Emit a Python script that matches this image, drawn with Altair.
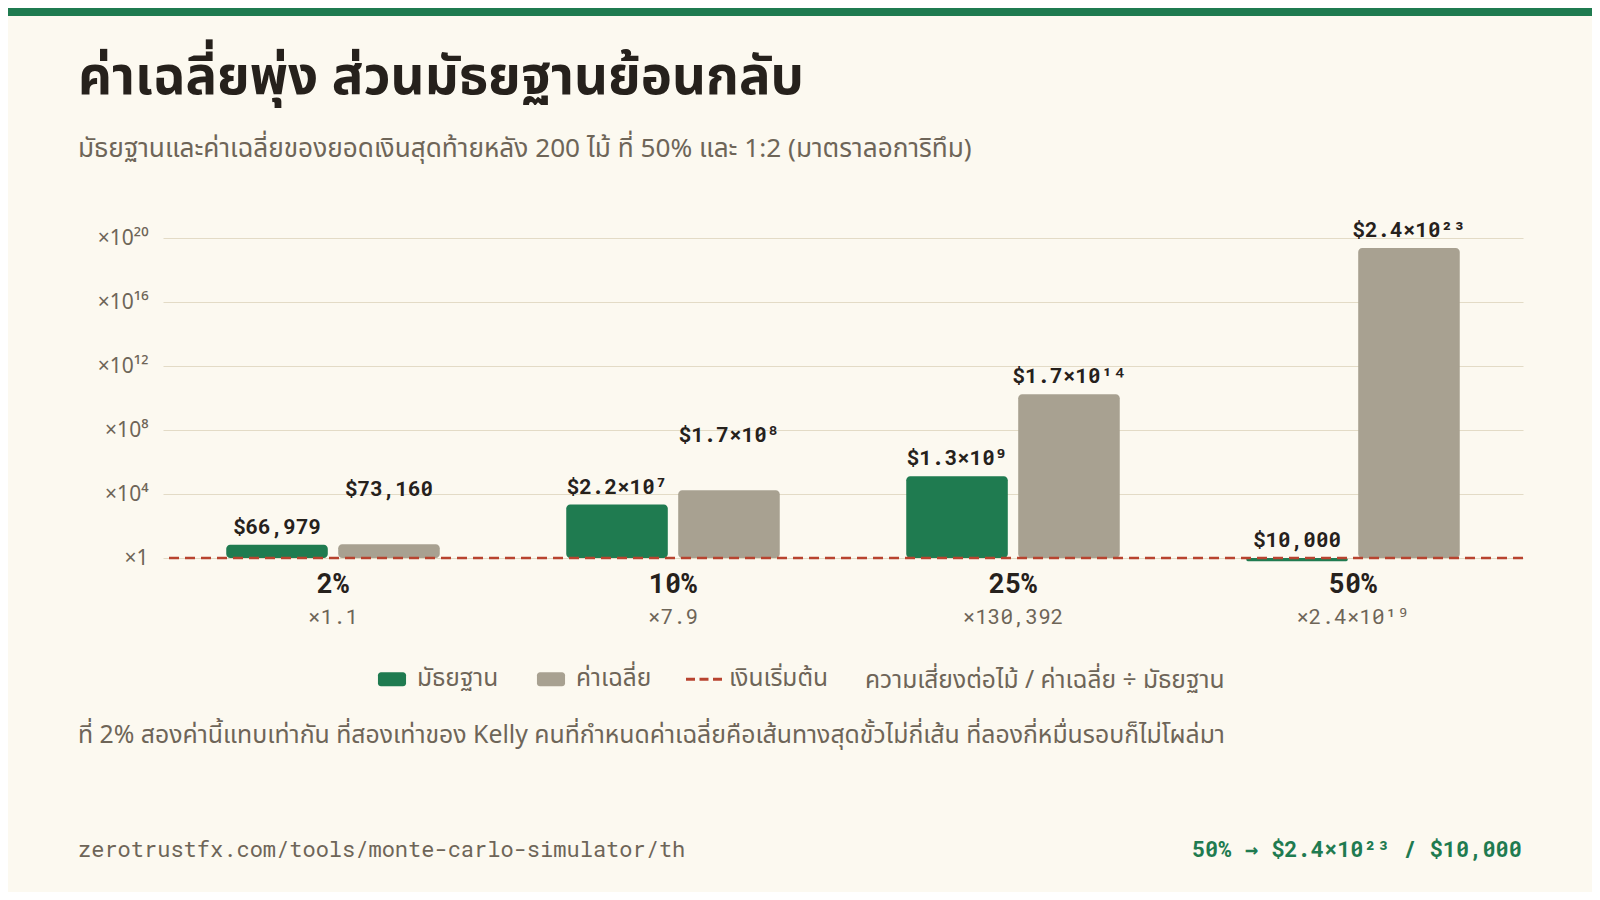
import altair as alt
import numpy as np
import pandas as pd

START_BALANCE = 10_000

risk_levels = ["2%", "10%", "25%", "50%"]
median_balance = [66_979, 2.2e7, 1.3e9, 10_000]
mean_balance = [73_160, 1.7e8, 1.7e14, 2.4e23]
median_labels = ["$66,979", "$2.2×10⁷", "$1.3×10⁹", "$10,000"]
mean_labels = ["$73,160", "$1.7×10⁸", "$1.7×10¹⁴", "$2.4×10²³"]
ratio_labels = ["×1.1", "×7.9", "×130,392", "×2.4×10¹⁹"]

y_tick_values = [0, 4, 8, 12, 16, 20]
y_tick_labels = ["×1", "×10⁴", "×10⁸", "×10¹²", "×10¹⁶", "×10²⁰"]

series_names = ["มัธยฐาน", "ค่าเฉลี่ย", "เงินเริ่มต้น"]
legend_note = "ความเสี่ยงต่อไม้ / ค่าเฉลี่ย ÷ มัธยฐาน"

TITLE = "ค่าเฉลี่ยพุ่ง ส่วนมัธยฐานย้อนกลับ"
SUBTITLE = "มัธยฐานและค่าเฉลี่ยของยอดเงินสุดท้ายหลัง 200 ไม้ ที่ 50% และ 1:2 (มาตราลอการิทึม)"
FOOTNOTE = ("ที่ 2% สองค่านี้แทบเท่ากัน ที่สองเท่าของ Kelly คนที่กำหนดค่าเฉลี่ยคือเส้นทางสุดขั้วไม่กี่เส้น "
            "ที่ลองกี่หมื่นรอบก็ไม่โผล่มา")
SOURCE = "zerotrustfx.com/tools/monte-carlo-simulator/th"
CALLOUT = "50% → $2.4×10²³ / $10,000"

BG = "#fcf9f0"
GREEN = "#1f7b50"
GREY = "#a8a191"
RED = "#b8432f"
GRID = "#e3dbc6"
INK = "#26211c"
MUTED = "#6e6558"
SANS = "Noto Sans, Noto Sans Thai, sans-serif"
MONO = "Roboto Mono, DejaVu Sans Mono, monospace"

W, H = 1360, 352
PAD = {"left": 155, "top": 198, "right": 69, "bottom": 334}
MIN_BAR = 0.2      # decades, so a zero-height bar still shows as a sliver
LABEL_CLASH = 1.5  # decades; mean label is lifted when it sits this close to the median

# legend symbols, drawn in the unit box [-1, 1]
RECT_PATH = ("M-0.61,-0.39H0.61A0.17,0.17 0 0 1 0.78,-0.22V0.22A0.17,0.17 0 0 1 0.61,0.39"
             "H-0.61A0.17,0.17 0 0 1 -0.78,0.22V-0.22A0.17,0.17 0 0 1 -0.61,-0.39Z")
DASH_PATH = "M-1,-0.08H-0.5V0.08H-1Z M-0.25,-0.08H0.25V0.08H-0.25Z M0.5,-0.08H1V0.08H0.5Z"


rows = []
for i, risk in enumerate(risk_levels):
    med_exp = float(np.log10(median_balance[i] / START_BALANCE))
    mean_exp = float(np.log10(mean_balance[i] / START_BALANCE))
    rows.append({"risk": risk, "series": series_names[0], "exp": med_exp,
                 "bar": med_exp if med_exp > 0 else -MIN_BAR, "label": median_labels[i], "lift": False})
    rows.append({"risk": risk, "series": series_names[1], "exp": mean_exp,
                 "bar": mean_exp if mean_exp > 0 else -MIN_BAR, "label": mean_labels[i],
                 "lift": mean_exp - med_exp < LABEL_CLASH})
bars_df = pd.DataFrame(rows)
ratio_df = pd.DataFrame({"risk": risk_levels, "ratio": ratio_labels})

label_expr = "''"
for value, text in reversed(list(zip(y_tick_values, y_tick_labels))):
    label_expr = f"datum.value == {value} ? '{text}' : {label_expr}"

x_enc = alt.X(
    "risk:N",
    sort=risk_levels,
    scale=alt.Scale(paddingInner=0.372, paddingOuter=0.186),
    axis=alt.Axis(title=None, labelAngle=0, labelFont=MONO, labelFontSize=27, labelFontWeight="bold",
                  labelColor=INK, labelPadding=13, ticks=False, domain=False, grid=False),
)
offset_enc = alt.XOffset("series:N", sort=series_names[:2], scale=alt.Scale(paddingInner=0.093))
color_scale = alt.Scale(domain=series_names, range=[GREEN, GREY, RED])

legend = alt.Legend(
    orient="none", legendX=211, legendY=455, direction="horizontal",
    title=legend_note, titleOrient="right", titleAnchor="middle",
    titleBaseline="line-top", titleLineHeight=10.4,
    titleFont=SANS, titleFontSize=24.6, titleFontWeight="normal", titleColor=MUTED, titlePadding=37,
    titleLimit=800, labelFont=SANS, labelFontSize=24.5, labelColor=MUTED, labelOffset=7,
    labelLimit=300, columnPadding=34, symbolSize=1296, symbolOpacity=1, symbolStrokeWidth=0,
)

bars = (
    alt.Chart(bars_df)
    .mark_bar(cornerRadius=4)
    .encode(
        x=x_enc,
        xOffset=offset_enc,
        y=alt.Y(
            "bar:Q",
            scale=alt.Scale(domain=[0, 22], nice=False, zero=False),
            axis=alt.Axis(title=None, values=y_tick_values, labelExpr=label_expr, labelFont=SANS,
                          labelFontSize=21, labelColor=MUTED, labelPadding=15, ticks=False,
                          domain=False, gridColor=GRID, gridWidth=1),
        ),
        y2=alt.datum(0),
        color=alt.Color("series:N", scale=color_scale, legend=legend),
    )
)

start_line = (
    alt.Chart(pd.DataFrame({"exp": [0.0]}))
    .mark_rule(color=RED, strokeWidth=2.5, strokeDash=[10, 6])
    .encode(y="exp:Q")
)

value_labels = [
    alt.Chart(bars_df)
    .transform_filter(f"datum.lift == {str(lift).lower()}")
    .mark_text(font=MONO, fontSize=21, fontWeight="bold", color=INK, baseline="alphabetic", dy=dy)
    .encode(x=x_enc, xOffset=offset_enc, y="exp:Q", text="label:N")
    for lift, dy in [(False, -11), (True, -48)]
]

ratio_text = (
    alt.Chart(ratio_df)
    .mark_text(font=MONO, fontSize=21, color=MUTED, baseline="alphabetic")
    .encode(x=x_enc, y=alt.value(418), text="ratio:N")
)

legend_keys = (
    alt.Chart(pd.DataFrame({"series": series_names}))
    .mark_point(filled=True, opacity=0)
    .encode(
        color=alt.Color("series:N", scale=color_scale, legend=legend),
        shape=alt.Shape("series:N", scale=alt.Scale(domain=series_names,
                                                    range=[RECT_PATH, RECT_PATH, DASH_PATH]),
                        legend=legend),
    )
)


def note(text, x, y, **style):
    return (
        alt.Chart(pd.DataFrame({"text": [text]}))
        .mark_text(baseline="alphabetic", **style)
        .encode(x=alt.value(x), y=alt.value(y), text="text:N")
    )


footnote = note(FOOTNOTE, -85, 537, align="left", font=SANS, fontSize=24.8, color=MUTED)
source = note(SOURCE, -85, 651, align="left", font=MONO, fontSize=22, color=MUTED)
callout = note(CALLOUT, W - 1, 651, align="right", font=MONO, fontSize=22, fontWeight="bold", color=GREEN)

top_band = (
    alt.Chart(pd.DataFrame({"band": [0]}))
    .mark_rect(color=GREEN)
    .encode(x=alt.value(-PAD["left"]), x2=alt.value(W + PAD["right"]),
            y=alt.value(-PAD["top"]), y2=alt.value(-PAD["top"] + 8))
)

chart = (
    alt.layer(bars, start_line, *value_labels, ratio_text, legend_keys, footnote, source, callout, top_band)
    .properties(
        width=W,
        height=H,
        padding=PAD,
        autosize=alt.AutoSizeParams(type="none"),
        background=BG,
        title=alt.TitleParams(
            text=TITLE, subtitle=SUBTITLE, anchor="start", frame="group", dx=-85, offset=-154,
            font=SANS, fontSize=52.7, fontWeight="bold", color=INK,
            subtitleFont=SANS, subtitleFontSize=26.2, subtitleColor=MUTED, subtitlePadding=31,
        ),
    )
    .configure_view(stroke=None)
)

chart.save("out.html", embed_options={"renderer": "svg", "actions": False})
